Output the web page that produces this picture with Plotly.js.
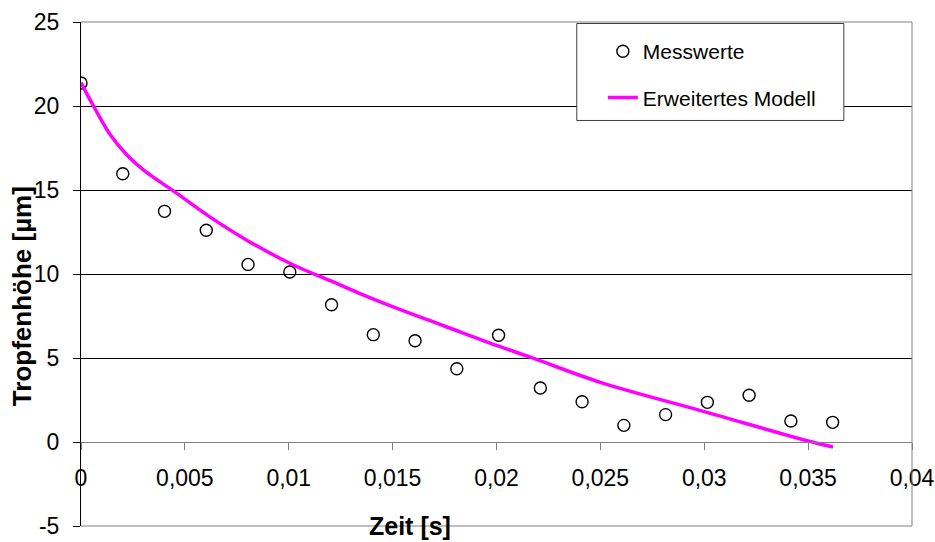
<!DOCTYPE html>
<html>
<head>
<meta charset="utf-8">
<script src="https://cdn.plot.ly/plotly-3.0.1.min.js"></script>
<style>
  html, body { margin: 0; padding: 0; background: #ffffff; }
  #chart { width: 935px; height: 542px; }
</style>
</head>
<body>
<div id="chart"></div>
<script>
// Measured values (Messwerte)
const timeMeas = [0, 0.00201, 0.00402, 0.00603, 0.00804, 0.01005, 0.01206, 0.01407, 0.01608, 0.01809,
                  0.0201, 0.02211, 0.02412, 0.02613, 0.02814, 0.03015, 0.03216, 0.03417, 0.03618];
const heightMeas = [21.37, 15.97, 13.73, 12.60, 10.57, 10.12, 8.17, 6.39, 6.03, 4.36,
                    6.35, 3.21, 2.40, 0.99, 1.63, 2.36, 2.78, 1.25, 1.17];

// Extended model (Erweitertes Modell)
const timeModel = [0, 0.0006, 0.0014, 0.0022, 0.0030, 0.0045, 0.0062, 0.0080, 0.0102, 0.0120,
                   0.0134, 0.0154, 0.0174, 0.0200, 0.0217, 0.0250, 0.0300, 0.0350, 0.0362];
const heightModel = [21.39, 20.0, 18.3, 17.1, 16.2, 14.9, 13.4, 12.0, 10.55, 9.6,
                     8.85, 7.86, 6.95, 5.75, 5.02, 3.55, 1.81, 0.06, -0.30];

// Tick values and labels
const xTickVals = [0, 0.005, 0.01, 0.015, 0.02, 0.025, 0.03, 0.035, 0.04];
const xTickText = ['0', '0,005', '0,01', '0,015', '0,02', '0,025', '0,03', '0,035', '0,04'];
const yTickVals = [-5, 0, 5, 10, 15, 20, 25];
const yTickText = ['-5', '0', '5', '10', '15', '20', '25'];

const seriesNames = ['Messwerte', 'Erweitertes Modell'];
const xTitle = 'Zeit [s]';
const yTitle = 'Tropfenhöhe [µm]';

const FONT = '"Liberation Sans", Arial, sans-serif';

const traces = [
  {
    x: timeMeas, y: heightMeas, name: seriesNames[0], type: 'scatter', mode: 'markers',
    legendgroup: 'a',
    marker: { symbol: 'circle-open', size: 12, color: '#000000', line: { width: 1.4, color: '#000000' } },
    hoverinfo: 'x+y'
  },
  {
    x: timeModel, y: heightModel, name: seriesNames[1], type: 'scatter', mode: 'lines',
    legendgroup: 'b',
    line: { color: '#FF00FF', width: 3.5, shape: 'spline', smoothing: 1 },
    hoverinfo: 'x+y'
  }
];

const layout = {
  width: 935, height: 542,
  margin: { l: 81, r: 23, t: 22, b: 16, pad: 0 },
  paper_bgcolor: '#ffffff', plot_bgcolor: '#ffffff',
  font: { family: FONT, color: '#000000', size: 23 },
  showlegend: true,
  legend: {
    x: 0.628, y: 0.982, xanchor: 'left', yanchor: 'top',
    bgcolor: 'rgba(0,0,0,0)', borderwidth: 0,
    font: { family: FONT, size: 21, color: '#000000' },
    tracegroupgap: 16
  },
  xaxis: {
    range: [0, 0.04], anchor: 'free', position: 5 / 30,
    tickmode: 'array', tickvals: xTickVals, ticktext: xTickText,
    ticks: 'outside', ticklen: 7, tickcolor: '#808080', tickwidth: 1,
    ticklabelstandoff: 8,
    showline: true, linecolor: '#808080', linewidth: 1,
    showgrid: false, zeroline: false,
    tickfont: { family: FONT, size: 23, color: '#000000' },
    fixedrange: true
  },
  yaxis: {
    range: [-5, 25],
    tickmode: 'array', tickvals: yTickVals, ticktext: yTickText,
    ticks: 'outside', ticklen: 7, tickcolor: '#000000', tickwidth: 1,
    ticklabelstandoff: 9,
    showline: true, linecolor: '#000000', linewidth: 1,
    showgrid: true, gridcolor: '#000000', gridwidth: 1,
    zeroline: false,
    tickfont: { family: FONT, size: 23, color: '#000000' },
    fixedrange: true
  },
  shapes: [
    // plot-area border (top, bottom, right) in grey
    { type: 'line', xref: 'paper', yref: 'paper', x0: 0, x1: 1, y0: 1, y1: 1, line: { color: '#808080', width: 1 }, layer: 'above' },
    { type: 'line', xref: 'paper', yref: 'paper', x0: 0, x1: 1, y0: 0, y1: 0, line: { color: '#808080', width: 1 }, layer: 'above' },
    { type: 'line', xref: 'paper', yref: 'paper', x0: 1, x1: 1, y0: 0, y1: 1, line: { color: '#808080', width: 1 }, layer: 'above' },
    // legend box
    { type: 'rect', xref: 'paper', yref: 'paper', x0: 0.5966, x1: 0.918, y0: 0.8046, y1: 0.997,
      fillcolor: '#ffffff', line: { color: '#404040', width: 1 }, layer: 'above' }
  ],
  annotations: [
    { text: xTitle, xref: 'paper', yref: 'paper', x: 0.396, y: 0, xanchor: 'center', yanchor: 'middle',
      showarrow: false, font: { family: FONT, size: 25, weight: 700, color: '#000000' } },
    { text: yTitle, xref: 'paper', yref: 'paper', x: -0.0716, y: 0.455, xanchor: 'center', yanchor: 'middle',
      textangle: -90, showarrow: false, font: { family: FONT, size: 26, weight: 700, color: '#000000' } }
  ]
};

Plotly.newPlot('chart', traces, layout, { displayModeBar: false, staticPlot: true });
</script>
</body>
</html>
